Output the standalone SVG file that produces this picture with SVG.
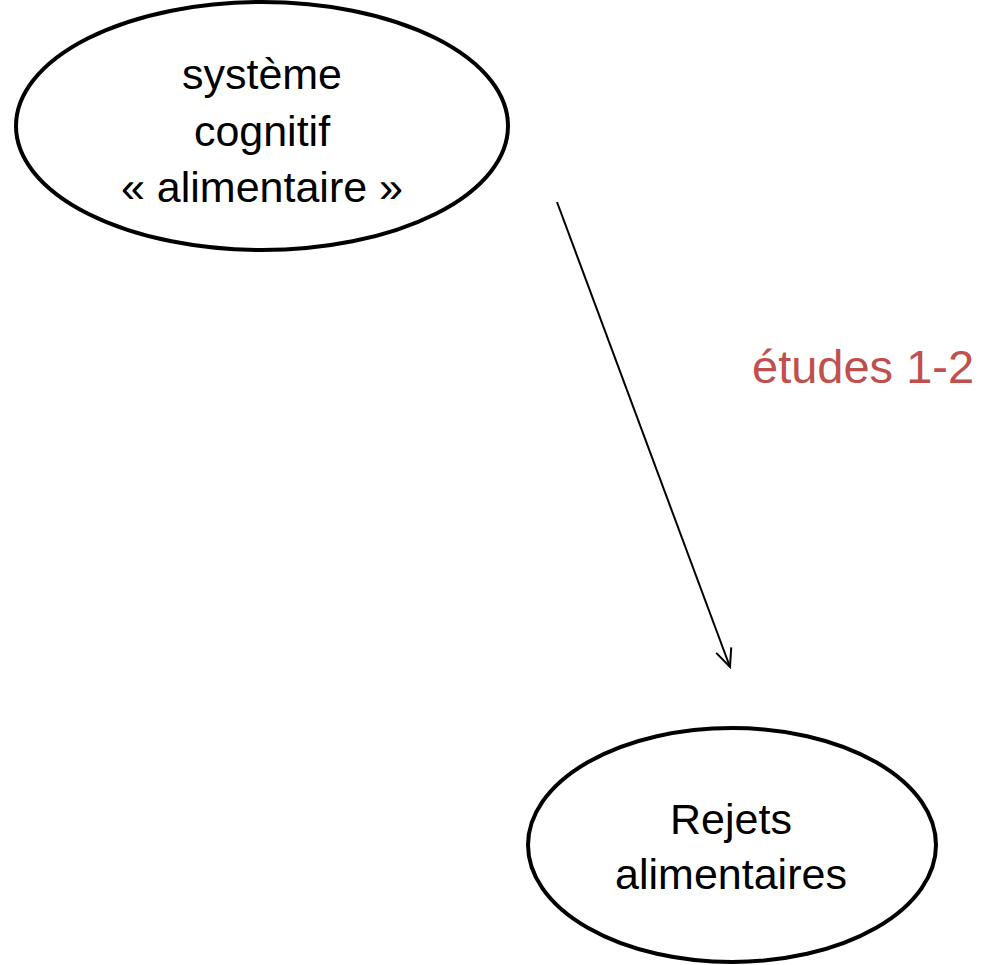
<svg xmlns="http://www.w3.org/2000/svg" width="990" height="965" viewBox="0 0 990 965">
<style>
.node{fill:#fff;stroke:#000;stroke-width:4}
.t{font-family:"Liberation Sans",Arial,sans-serif;font-size:43px;fill:#000;text-anchor:middle}
.lbl{font-family:"Liberation Sans",Arial,sans-serif;font-size:47px;fill:#c0504d}
.edge{stroke:#000;stroke-width:2;fill:none}
</style>
<defs>
<marker id="arr" markerWidth="24" markerHeight="24" refX="20" refY="10" orient="auto" markerUnits="userSpaceOnUse" viewBox="0 0 24 20">
<path d="M2,2 L20,10 L2,18" fill="none" stroke="#000" stroke-width="2"/>
</marker>
</defs>
<rect width="990" height="965" fill="#fff"/>
<g id="n1">
<ellipse class="node" cx="262" cy="126" rx="246" ry="124"/>
<text class="t" x="262" y="89">système</text>
<text class="t" x="262" y="146">cognitif</text>
<text class="t" x="262" y="202">« alimentaire »</text>
</g>
<g id="n2">
<ellipse class="node" cx="732" cy="845" rx="204" ry="117"/>
<text class="t" x="731" y="834">Rejets</text>
<text class="t" x="731" y="889">alimentaires</text>
</g>
<g id="connectors">
<line class="edge" x1="557" y1="202" x2="730" y2="667" marker-end="url(#arr)"/>
<text class="lbl" x="752" y="383">études 1-2</text>
</g>
</svg>
